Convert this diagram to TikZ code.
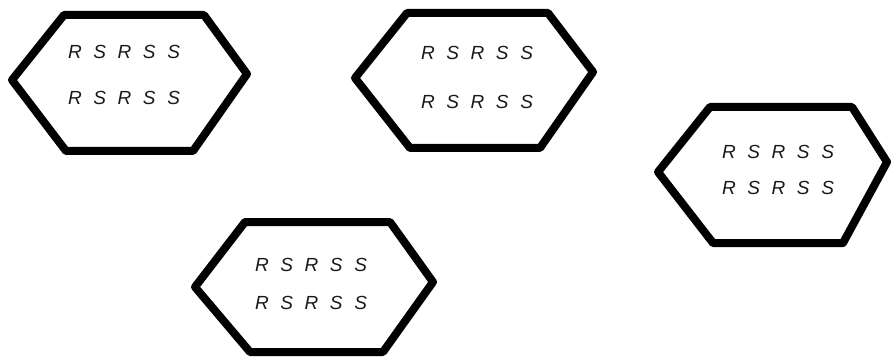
\documentclass[tikz,border=0pt]{standalone}
\usepackage{fontspec}
\newfontfamily\rsfont[WordSpace=2.2]{Liberation Sans}
\tikzset{
  hexline/.style={line width=8pt, line join=round},
  rslabel/.style={font=\rsfont\itshape\fontsize{19}{19}\selectfont,
                  text=black!90, inner sep=0pt}
}

\begin{document}
\begin{tikzpicture}[x=1pt, y=-1pt]
  \useasboundingbox (0,0) rectangle (891,358);

  % top left
  \draw[hexline] (64,15) -- (204,15) -- (247,74) -- (193,151)
                 -- (66,151) -- (12,80) -- cycle;
  \node[rslabel] (hexAtop) at (124,52) {R S R S S};
  \node[rslabel] (hexAbot) at (124,98) {R S R S S};

  % top middle
  \draw[hexline] (407,13) -- (548,13) -- (593,72) -- (540,148)
                 -- (410,148) -- (355,78) -- cycle;
  \node[rslabel] (hexBtop) at (477,53) {R S R S S};
  \node[rslabel] (hexBbot) at (477,102) {R S R S S};

  % right
  \draw[hexline] (710,107) -- (852,107) -- (887,162) -- (843,243)
                 -- (713,243) -- (658,172) -- cycle;
  \node[rslabel] (hexCtop) at (778,152) {R S R S S};
  \node[rslabel] (hexCbot) at (778,188) {R S R S S};

  % bottom
  \draw[hexline] (245,222) -- (390,222) -- (433,282) -- (383,352)
                 -- (250,352) -- (195,287) -- cycle;
  \node[rslabel] (hexDtop) at (311,265) {R S R S S};
  \node[rslabel] (hexDbot) at (311,303) {R S R S S};

\end{tikzpicture}
\end{document}
